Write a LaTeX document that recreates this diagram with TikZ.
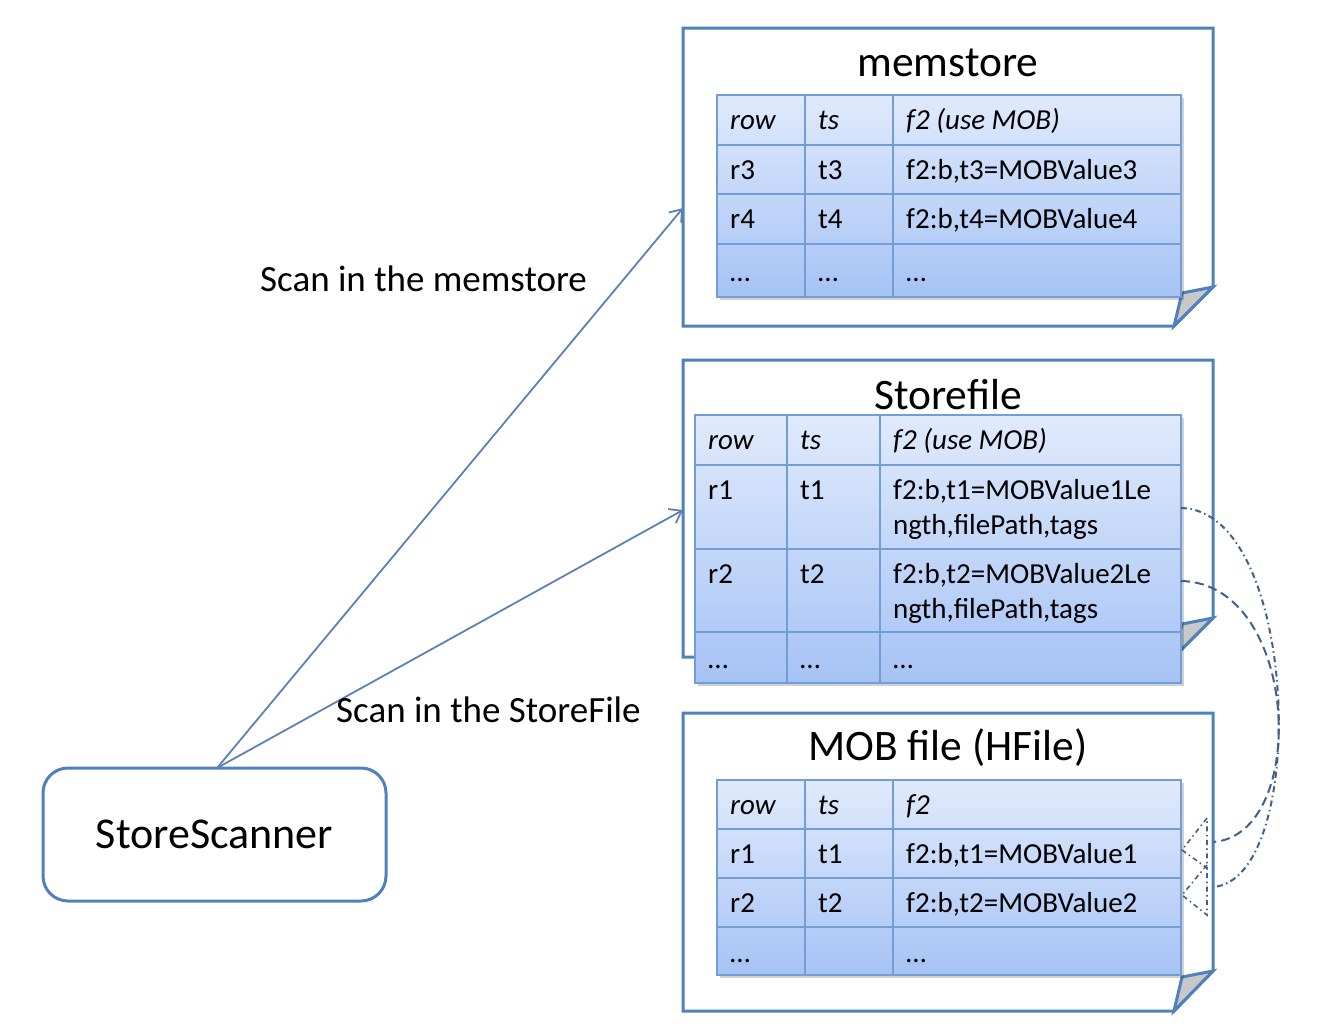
\documentclass[tikz,border=0pt]{standalone}
\usepackage{fontspec}
\setmainfont{Carlito}
\usetikzlibrary{arrows.meta}
\definecolor{boxblue}{HTML}{4F81BD}
\definecolor{gridblue}{HTML}{729DD6}
\definecolor{tabtop}{HTML}{E0EAFC}
\definecolor{tabbot}{HTML}{A6C3F5}
\definecolor{arrowblue}{HTML}{5E81B2}
\definecolor{curvecol}{HTML}{42608A}
\definecolor{foldgray}{HTML}{C8C8C8}
\newcommand\tblbg[4]{%
  \fill[black,opacity=0.18] (#1+3,#2+3) rectangle (#3+3,#4+3);
  \shade[top color=tabtop,bottom color=tabbot] (#1,#2) rectangle (#3,#4);
}
\begin{document}
\begin{tikzpicture}[x=1pt,y=-1pt,
  outerbox/.style={draw=boxblue,line width=3pt,fill=white,line join=miter},
  fold/.style={draw=boxblue,line width=3pt,fill=foldgray,line join=miter},
  grid/.style={draw=gridblue,line width=2pt},
  cell/.style={anchor=base west,inner sep=0pt,font=\fontsize{29}{34}\selectfont},
  hcell/.style={cell,font=\fontsize{29}{34}\selectfont\itshape},
  title/.style={inner sep=0pt,font=\fontsize{43.5}{50}\selectfont},
  lbl/.style={anchor=west,inner sep=0pt,font=\fontsize{37}{42}\selectfont},
  scan/.style={draw=arrowblue,line width=1.8pt,-{Straight Barb[length=11pt,width=16pt,line width=1.8pt]}},
  curveA/.style={draw=curvecol,line width=2pt,dash pattern=on 6pt off 3.5pt on 1.5pt off 3.5pt},
  curveB/.style={draw=curvecol,line width=2pt,dash pattern=on 9pt off 5pt},
  tiptri/.style={draw=curvecol,line width=1.6pt,dash pattern=on 5pt off 3.5pt on 1.5pt off 3.5pt,line join=miter}
]
\useasboundingbox (0,0) rectangle (1320,1028);

% ---------- memstore ----------
\draw[outerbox] (683,28) -- (1213,28) -- (1213,287) -- (1174,326) -- (683,326) -- cycle;
\draw[fold] (1213,287) -- (1174,326) -- (1182,293) -- cycle;
\node[title] (memtitle) at (948,63) {memstore};
\tblbg{717}{95}{1181}{297}
\draw[grid] (717,95) rectangle (1181,297);
\foreach \y in {145,194,244} \draw[grid] (717,\y) -- (1181,\y);
\foreach \x in {805,893} \draw[grid] (\x,95) -- (\x,297);
\node[hcell] (m-h1) at (730,129.5) {row};
\node[hcell] (m-h2) at (818,129.5) {ts};
\node[hcell] (m-h3) at (906,129.5) {f2 (use MOB)};
\node[cell] (m-a1) at (730,179) {r3};
\node[cell] (m-a2) at (818,179) {t3};
\node[cell] (m-a3) at (906,179) {f2:b,t3=MOBValue3};
\node[cell] (m-b1) at (730,228.5) {r4};
\node[cell] (m-b2) at (818,228.5) {t4};
\node[cell] (m-b3) at (906,228.5) {f2:b,t4=MOBValue4};
\node[cell] (m-c1) at (730,281) {…};
\node[cell] (m-c2) at (818,281) {…};
\node[cell] (m-c3) at (906,281) {…};
\coordinate (memin) at (683,208);

% ---------- Storefile ----------
\draw[outerbox] (683,360) -- (1213,360) -- (1213,618) -- (1174,657) -- (683,657) -- cycle;
\draw[fold] (1213,618) -- (1174,657) -- (1182,624) -- cycle;
\node[title] (sftitle) at (948,395) {Storefile};
\tblbg{695}{415}{1181}{683}
\draw[grid] (695,415) rectangle (1181,683);
\foreach \y in {465,549,632} \draw[grid] (695,\y) -- (1181,\y);
\foreach \x in {787,880} \draw[grid] (\x,415) -- (\x,683);
\node[hcell] (s-h1) at (708,449.5) {row};
\node[hcell] (s-h2) at (800,449.5) {ts};
\node[hcell] (s-h3) at (893,449.5) {f2 (use MOB)};
\node[cell] (s-a1) at (708,499) {r1};
\node[cell] (s-a2) at (800,499) {t1};
\node[cell] (s-a3) at (893,499) {f2:b,t1=MOBValue1Le};
\node[cell] (s-a4) at (893,534) {ngth,filePath,tags};
\node[cell] (s-b1) at (708,583) {r2};
\node[cell] (s-b2) at (800,583) {t2};
\node[cell] (s-b3) at (893,583) {f2:b,t2=MOBValue2Le};
\node[cell] (s-b4) at (893,618) {ngth,filePath,tags};
\node[cell] (s-c1) at (708,668) {…};
\node[cell] (s-c2) at (800,668) {…};
\node[cell] (s-c3) at (893,668) {…};
\coordinate (sfin) at (683,510);
\coordinate (sfr1) at (1181,508);
\coordinate (sfr2) at (1181,581);

% ---------- MOB file ----------
\draw[outerbox] (683,713) -- (1213,713) -- (1213,971) -- (1174,1011) -- (683,1011) -- cycle;
\draw[fold] (1213,971) -- (1174,1011) -- (1182,977) -- cycle;
\node[title] (mobtitle) at (948,748) {MOB file (HFile)};
\tblbg{717}{780}{1181}{975}
\draw[grid] (717,780) rectangle (1181,975);
\foreach \y in {829,878,927} \draw[grid] (717,\y) -- (1181,\y);
\foreach \x in {805,893} \draw[grid] (\x,780) -- (\x,975);
\node[hcell] (o-h1) at (730,814) {row};
\node[hcell] (o-h2) at (818,814) {ts};
\node[hcell] (o-h3) at (906,814) {f2};
\node[cell] (o-a1) at (730,863) {r1};
\node[cell] (o-a2) at (818,863) {t1};
\node[cell] (o-a3) at (906,863) {f2:b,t1=MOBValue1};
\node[cell] (o-b1) at (730,912) {r2};
\node[cell] (o-b2) at (818,912) {t2};
\node[cell] (o-b3) at (906,912) {f2:b,t2=MOBValue2};
\node[cell] (o-c1) at (730,962) {…};
\node[cell] (o-c3) at (906,962) {…};
\coordinate (mobe1) at (1213,842);
\coordinate (mobe2) at (1213,887);
\coordinate (tip1) at (1182,850);
\coordinate (tip2) at (1182,895);

% ---------- StoreScanner ----------
\node[draw=boxblue,line width=3pt,rounded corners=25pt,minimum width=343pt,minimum height=133pt,
      inner sep=0pt,font=\fontsize{44}{50}\selectfont] (scanner) at (214.5,834.5) {StoreScanner};
\coordinate (scantop) at (217,768);

% ---------- scan arrows ----------
\draw[scan] (scantop) -- (memin);
\draw[scan] (scantop) -- (sfin);
\node[lbl] (lblmem) at (260,279) {Scan in the memstore};
\node[lbl] (lblsf) at (336,710) {Scan in the StoreFile};

% ---------- MOB reference curves ----------
\draw[curveA] (sfr1) .. controls (1300,510) and (1310,880) .. (mobe2);
\draw[curveB] (sfr2) .. controls (1300,583) and (1310,835) .. (mobe1);
\draw[tiptri] (1207,818) -- (tip1) -- (1207,868) -- cycle;
\draw[tiptri] (1207,865) -- (tip2) -- (1207,915) -- cycle;
\end{tikzpicture}
\end{document}
